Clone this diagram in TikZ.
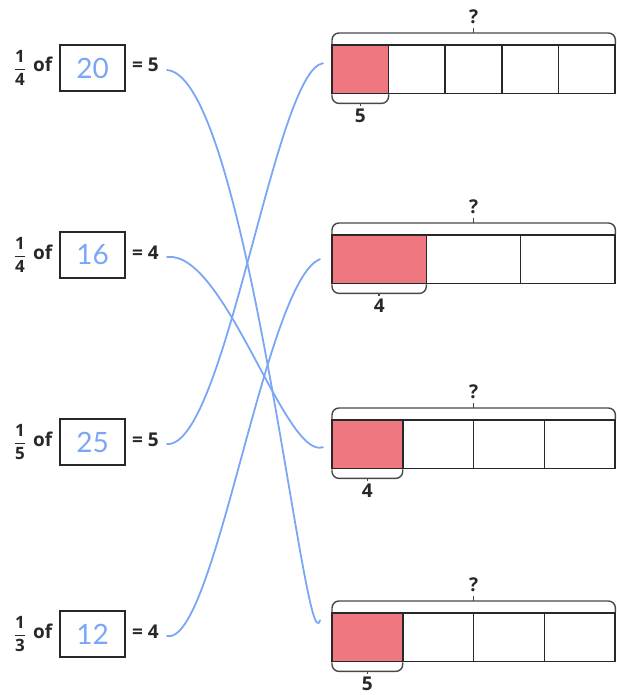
\documentclass[tikz,border=0pt]{standalone}
\usepackage{amsmath}
\usepackage{fontspec}
\setmainfont{Open Sans}
\newfontfamily\handfont{Lato}
\usetikzlibrary{positioning,calc}
\definecolor{wireblue}{RGB}{122,166,245}
\definecolor{partred}{RGB}{238,119,128}
\definecolor{ink}{RGB}{40,40,40}

\begin{document}
\begin{tikzpicture}[x=1pt,y=-1pt,
    txt/.style={font=\fontsize{19}{22}\selectfont\bfseries,text=ink,inner sep=0pt},
    ansbox/.style={draw=ink,line width=1.3pt,minimum width=65pt,minimum height=46pt,inner sep=0pt,font=\fontsize{28}{30}\selectfont\handfont,text=wireblue},
    wire/.style={wireblue,line width=1.8pt,line cap=round},
    brc/.style={ink!85,line width=1.4pt,rounded corners=7pt},
    cell/.style={ink,line width=1.5pt}]
    \useasboundingbox (0,0) rectangle (616,695);
    % left column: 1/d of [w] = r
    \foreach \n/\y/\d/\w/\r in {1/68/4/20/5,2/255/4/16/4,3/442/5/25/5,4/634/3/12/4}{
        \node[txt,font=\fontsize{17}{20}\selectfont\bfseries] (frac\n) at (20,\y) {$\genfrac{}{}{1.2pt}{0}{\text{1}}{\text{\d}}$};
        \node[txt,anchor=base west] (of\n) at (33,\y+4) {of};
        \node[ansbox] (box\n) at (92.5,\y) {\w};
        \node[txt,anchor=base west] (eq\n) at (132,\y+4) {= \r};
        \coordinate (s\n) at ($(eq\n.base east)+(8,-2)$);
    }
    % bar models
    \foreach \n/\y/\k/\lab in {1/45/5/5,2/235/3/4,3/420/4/4,4/613/4/5}{
        \pgfmathsetmacro\cw{283/\k}
        \node[minimum width=283pt,minimum height=48pt,anchor=north west,inner sep=0pt] (bar\n) at (332,\y) {};
        \fill[partred] (bar\n.north west) rectangle ($(bar\n.south west)+(\cw,0)$);
        \draw[cell] (bar\n.north west) rectangle (bar\n.south east);
        \foreach \i in {1,...,\k}
            \draw[cell] ($(bar\n.north west)+(\i*\cw,0)$) -- ($(bar\n.south west)+(\i*\cw,0)$);
        % whole
        \draw[brc] ($(bar\n.north west)+(0,-1)$) -- ++(0,-11) -| ($(bar\n.north east)+(0,-1)$);
        \draw[brc] ($(bar\n.north)+(0,-12)$) -- ++(0,-5) node[txt,above=4pt] (q\n) {?};
        % one part
        \draw[brc] ($(bar\n.south west)+(0,1)$) -- ++(0,9) -| ($(bar\n.south west)+(\cw,1)$);
        \draw[brc] ($(bar\n.south west)+(\cw/2,10)$) -- ++(0,3) node[txt,below=2pt] (lab\n) {\lab};
    }
    % matching lines
    \coordinate (e1) at ($(bar4.west)+(-12,-17)$);
    \coordinate (e2) at ($(bar3.west)+(-9,3)$);
    \coordinate (e3) at ($(bar1.west)+(-9,-6)$);
    \coordinate (e4) at ($(bar2.west)+(-12,0)$);
    \draw[wire] (s1) .. controls +(80,6) and +(-15,50) .. (e1);
    \draw[wire] (s2) .. controls +(58,-7) and +(-38,13) .. (e2);
    \draw[wire] (s3) .. controls +(58,4) and +(-48,7) .. (e3);
    \draw[wire] (s4) .. controls +(48,10) and +(-55,21) .. (e4);
\end{tikzpicture}
\end{document}
